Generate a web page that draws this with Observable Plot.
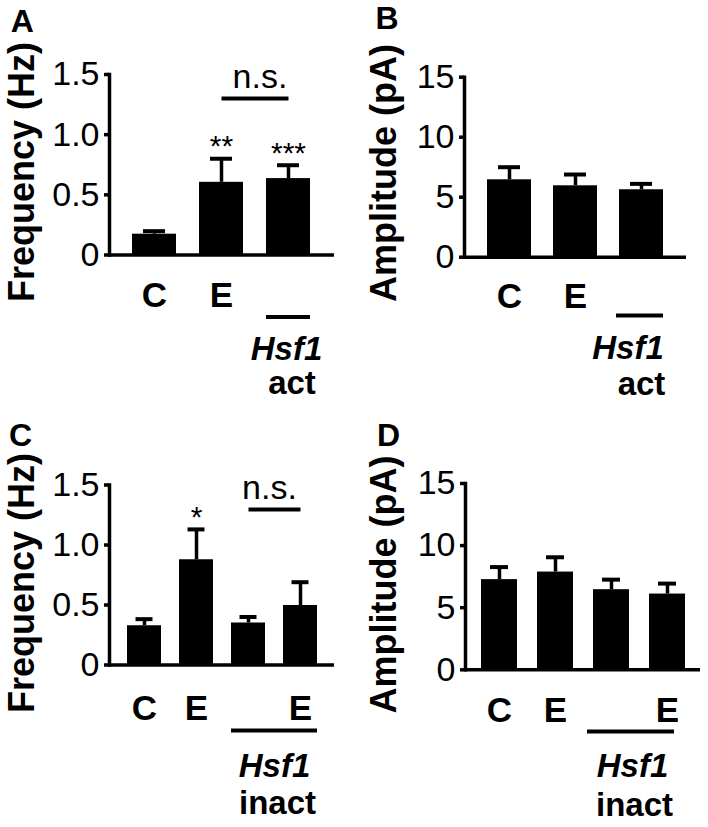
<!DOCTYPE html>
<html><head><meta charset="utf-8">
<script src="https://cdn.jsdelivr.net/npm/d3@7"></script>
<script src="https://cdn.jsdelivr.net/npm/@observablehq/plot@0.6"></script>
<style>
html,body{margin:0;padding:0;background:#fff;}
#root{position:relative;width:708px;height:827px;overflow:hidden;background:#fff;}
.panel{position:absolute;}
</style></head><body><div id="root"></div>
<script>
// ---- data ----
// Panel A: mEPSC frequency, Hsf1 activated
const catsA = ["C", "E", "Hsf1 act"];
const meanA = [0.173, 0.604, 0.635];
const semA = [0.025, 0.196, 0.111];
const sigA = ["", "**", "***"];
const tickLabelsA = ["C", "E", ""];
// Panel B: amplitude, Hsf1 activated
const catsB = ["C", "E", "Hsf1 act"];
const meanB = [6.45, 5.95, 5.62];
const semB = [1.05, 0.94, 0.49];
const sigB = ["", "", ""];
const tickLabelsB = ["C", "E", ""];
// Panel C: frequency, Hsf1 inactivated
const catsC = ["C", "E", "Hsf1 C", "Hsf1 E"];
const meanC = [0.327, 0.877, 0.35, 0.496];
const semC = [0.055, 0.253, 0.05, 0.194];
const sigC = ["", "*", "", ""];
const tickLabelsC = ["C", "E", "", "E"];
// Panel D: amplitude, Hsf1 inactivated
const catsD = ["C", "E", "Hsf1 C", "Hsf1 E"];
const meanD = [7.26, 7.87, 6.45, 6.1];
const semD = [1.01, 1.19, 0.81, 0.84];
const sigD = ["", "", "", ""];
const tickLabelsD = ["C", "E", "", "E"];

const freqTicks = [0, 0.5, 1.0, 1.5];
const freqTickLabels = ["0", "0.5", "1.0", "1.5"];
const ampTicks = [0, 5, 10, 15];
const ampTickLabels = ["0", "5", "10", "15"];

const panelLetters = ["A", "B", "C", "D"];
const yTitles = ["Frequency (Hz)", "Amplitude (pA)", "Frequency (Hz)", "Amplitude (pA)"];
const groupGene = "Hsf1";
const groupStates = ["act", "act", "inact", "inact"];
const nsA = {from: "E", to: "Hsf1 act", level: 1.30, label: "n.s."};
const nsC = {from: "Hsf1 C", to: "Hsf1 E", level: 1.296, label: "n.s."};

// ---- layout (positions / styles only) ----
const layouts = [
  {left: 0, top: 0, height: 410, mL: 109, mR: 20, mT: 74, y0: 254.5, pi: 0.34, po: 0.34, cap: 11,
   xPad: 27.5, ul: 62, ulL: 0, ulR: 0, geneDx: -2, geneDy: 94, stDx: 3.5, stDy: 128,
   letDx: -87.3, letDy: -53, tDx: -87, tDy: 7.25, nsDx: -28.5},
  {left: 354, top: 0, height: 410, mL: 110, mR: 22, mT: 76.7, y0: 256.7, pi: 0.34, po: 0.34, cap: 11,
   xPad: 26.3, ul: 58.3, ulL: -3, ulR: 0, geneDx: -13.5, geneDy: 91, stDx: 0, stDy: 127,
   letDx: -77.5, letDy: -58.2, tDx: -80, tDy: 5.8},
  {left: 0, top: 410, height: 417, mL: 109, mR: 20, mT: 74.5, y0: 254.5, pi: 0.35, po: 0.30, cap: 8.5,
   xPad: 30.5, ul: 65.5, ulL: 0, ulR: 0, geneDx: -26, geneDy: 101.5, stDx: -23, stDy: 138.5,
   letDx: -89, letDy: -49.5, tDx: -87, tDy: 8, nsDx: -31},
  {left: 354, top: 410, height: 417, mL: 111, mR: 8, mT: 73, y0: 259.3, pi: 0.366, po: 0.28, cap: 9,
   xPad: 27.4, ul: 61.7, ulL: -6, ulR: 11, geneDx: -35, geneDy: 97, stDx: -33, stDy: 136,
   letDx: -77, letDy: -48, tDx: -81, tDy: 7.8}
];

const panels = [
  {cats: catsA, mean: meanA, sem: semA, sig: sigA, xLabels: tickLabelsA, ticks: freqTicks, tickLabels: freqTickLabels, max: 1.5, ns: nsA},
  {cats: catsB, mean: meanB, sem: semB, sig: sigB, xLabels: tickLabelsB, ticks: ampTicks, tickLabels: ampTickLabels, max: 15, ns: null},
  {cats: catsC, mean: meanC, sem: semC, sig: sigC, xLabels: tickLabelsC, ticks: freqTicks, tickLabels: freqTickLabels, max: 1.5, ns: nsC},
  {cats: catsD, mean: meanD, sem: semD, sig: sigD, xLabels: tickLabelsD, ticks: ampTicks, tickLabels: ampTickLabels, max: 15, ns: null}
];

const FONT = "'Liberation Sans', Arial, Helvetica, sans-serif";
const root = document.getElementById("root");

panels.forEach((p, k) => {
  const L = layouts[k];
  const data = p.cats.map((c, i) => ({cat: c, mean: p.mean[i], top: p.mean[i] + p.sem[i], sig: p.sig[i], label: p.xLabels[i]}));
  const labelOf = new Map(data.map(d => [d.cat, d.label]));
  const groupCats = p.cats.filter(c => c.startsWith("Hsf1"));
  const grp = {first: groupCats[0], last: groupCats[groupCats.length - 1], gene: groupGene, state: groupStates[k], zero: 0};
  const width = 354;
  const marks = [
    Plot.barY(data, {x: "cat", y: "mean", fill: "black"}),
    Plot.ruleX(data, {x: "cat", y1: "mean", y2: "top", stroke: "black", strokeWidth: 3.5}),
    Plot.tickY(data, {x: "cat", y: "top", stroke: "black", strokeWidth: 4, insetLeft: L.cap, insetRight: L.cap}),
    Plot.ruleY([0], {stroke: "black", strokeWidth: 3.5}),
    Plot.frame({anchor: "left", stroke: "black", strokeWidth: 3.5}),
    Plot.axisY({ticks: p.ticks, tickFormat: d => p.tickLabels[p.ticks.indexOf(d)], tickSize: 5, tickPadding: 5,
      fontSize: 34, label: null, strokeWidth: 3.5}),
    Plot.axisX({tickSize: 0, tickPadding: L.xPad, fontSize: 35, fontWeight: "bold", tickFormat: d => labelOf.get(d), label: null}),
    Plot.text(data, {x: "cat", y: "top", text: "sig", dy: -12, fontSize: 30}),
    Plot.ruleY([grp], {x1: "first", x2: "last", y: "zero", dy: L.ul, stroke: "black", strokeWidth: 4, insetLeft: L.ulL, insetRight: L.ulR}),
    Plot.text([grp], {x: "last", frameAnchor: "bottom", text: "gene", dx: L.geneDx, dy: L.geneDy, lineAnchor: "middle",
      fontSize: 33, fontWeight: "bold", fontStyle: "italic"}),
    Plot.text([grp], {x: "last", frameAnchor: "bottom", text: "state", dx: L.stDx, dy: L.stDy, lineAnchor: "middle",
      fontSize: 33, fontWeight: "bold"}),
    Plot.text([panelLetters[k]], {frameAnchor: "top-left", text: d => d, dx: L.letDx, dy: L.letDy, textAnchor: "middle",
      lineAnchor: "middle", fontSize: 32, fontWeight: "bold"}),
    Plot.text([yTitles[k]], {frameAnchor: "left", text: d => d, dx: L.tDx, dy: L.tDy, rotate: -90, textAnchor: "middle",
      lineAnchor: "middle", fontSize: 36, fontWeight: "bold"})
  ];
  if (p.ns) {
    marks.push(Plot.link([p.ns], {x1: "from", x2: "to", y1: "level", y2: "level", stroke: "black", strokeWidth: 4}));
    marks.push(Plot.text([p.ns], {x: "to", y: "level", text: "label", dx: L.nsDx, dy: -21, fontSize: 34}));
  }
  const chart = Plot.plot({
    width, height: L.height,
    marginLeft: L.mL, marginRight: L.mR, marginTop: L.mT, marginBottom: L.height - L.y0,
    x: {domain: p.cats, paddingInner: L.pi, paddingOuter: L.po},
    y: {domain: [0, p.max]},
    style: {fontFamily: FONT, color: "black", background: "transparent", overflow: "visible"},
    marks
  });
  const div = document.createElement("div");
  div.className = "panel";
  div.style.left = L.left + "px";
  div.style.top = L.top + "px";
  div.appendChild(chart);
  root.appendChild(div);
});
</script></body></html>
